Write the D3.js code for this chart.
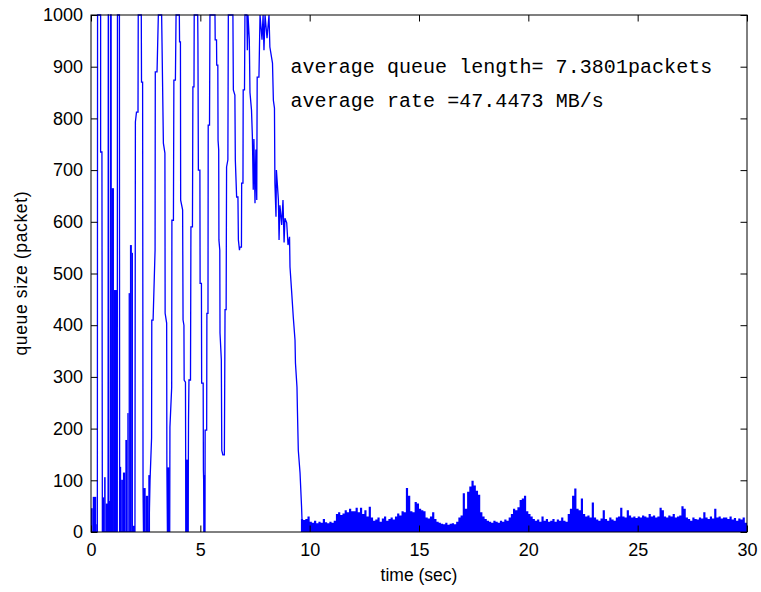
<!DOCTYPE html>
<html>
<head>
<meta charset="utf-8">
<script src="https://cdn.jsdelivr.net/npm/d3@7"></script>
<style>
  body { margin: 0; background: #fff; }
  text { font-family: "Liberation Sans", Arial, sans-serif; }
</style>
</head>
<body>
<div id="chart"></div>
<script>
// axis ticks
var xTicks = [0, 5, 10, 15, 20, 25, 30];
var yTicks = [0, 100, 200, 300, 400, 500, 600, 700, 800, 900, 1000];

// queue trace during the oscillating start, [time (sec), queue (packet)]
var startSpikes = [[0, 0], [0.29, 0], [0.30, 1000], [0.44, 1000], [0.44, 735], [0.50, 735], [0.52, 0],
  [0.78, 0], [0.79, 1000], [0.80, 1000], [0.81, 0], [0.89, 0], [0.90, 1000], [0.92, 1000], [0.93, 0],
  [1.20, 0], [1.21, 1000], [1.30, 1000], [1.31, 0], [2.01, 0]];
var toothA = [[2.03, 793], [2.08, 812], [2.15, 812], [2.16, 1000], [2.30, 1000], [2.31, 870],
  [2.36, 870], [2.38, 81], [2.40, 0], [2.65, 0]];
var toothB = [[2.70, 100], [2.77, 182], [2.78, 410], [2.84, 410], [2.93, 545], [2.94, 890], [3.02, 890],
  [3.08, 1000], [3.23, 1000], [3.24, 970], [3.31, 752], [3.38, 733], [3.39, 423], [3.46, 404],
  [3.47, 133], [3.50, 0], [3.60, 0]];
var toothC = [[3.61, 203], [3.69, 280], [3.70, 603], [3.77, 603], [3.79, 874], [3.86, 874], [3.89, 1000],
  [4.04, 1000], [4.05, 948], [4.09, 948], [4.10, 642], [4.19, 623], [4.21, 410], [4.25, 400],
  [4.26, 294], [4.32, 290], [4.34, 0], [4.44, 0]];
var toothD = [[4.46, 217], [4.48, 294], [4.55, 294], [4.57, 590], [4.64, 590], [4.66, 861], [4.71, 861],
  [4.72, 1000], [4.88, 1000], [4.89, 948], [4.91, 700], [4.98, 700], [4.99, 481], [5.05, 481],
  [5.06, 288], [5.13, 288], [5.14, 120], [5.21, 0]];
var toothE = [[5.22, 197], [5.29, 197], [5.30, 423], [5.35, 423], [5.36, 787], [5.42, 787], [5.44, 1000],
  [5.67, 1000], [5.68, 952], [5.74, 952], [5.75, 903], [5.80, 903], [5.81, 758], [5.84, 739],
  [5.85, 565], [5.89, 545], [5.90, 385], [5.96, 333], [5.98, 158], [6.03, 149]];
var toothF = [[6.10, 149], [6.13, 430], [6.18, 430], [6.20, 706], [6.26, 720], [6.28, 1000], [6.49, 1000],
  [6.51, 855], [6.58, 845], [6.60, 720], [6.66, 648], [6.72, 648], [6.74, 565], [6.79, 545], [6.81, 551]];
var toothG = [[6.88, 551], [6.89, 675], [6.95, 675], [6.96, 855], [7.02, 855], [7.04, 1000], [7.13, 1000],
  [7.15, 932], [7.18, 1000], [7.24, 952], [7.27, 850], [7.34, 816], [7.38, 765], [7.42, 662],
  [7.45, 760], [7.50, 636], [7.54, 740], [7.58, 642], [7.60, 880], [7.68, 880], [7.73, 1000],
  [7.82, 952], [7.87, 1000], [7.91, 932], [7.96, 1000], [8.05, 955], [8.14, 1000], [8.18, 938],
  [8.30, 907], [8.34, 835], [8.39, 820], [8.41, 675], [8.46, 610], [8.48, 700], [8.57, 642],
  [8.60, 565], [8.64, 632], [8.72, 594], [8.78, 642], [8.83, 560], [8.87, 607], [8.95, 598],
  [9.01, 555], [9.08, 571], [9.10, 513], [9.18, 462], [9.25, 416], [9.33, 371], [9.35, 327],
  [9.42, 280], [9.44, 236], [9.48, 158], [9.56, 114], [9.63, 48], [9.65, 23]];

// dense low oscillation blocks before 10 s, [from, to, top of band]
var burstFill = [[0.00, 0.08, 46], [0.08, 0.24, 68], [0.24, 0.29, 15],
  [0.52, 0.60, 67], [0.60, 0.67, 106], [0.67, 0.78, 55], [0.81, 0.89, 60],
  [0.93, 1.05, 665], [1.05, 1.20, 468], [1.31, 1.38, 126], [1.38, 1.46, 101], [1.46, 1.57, 115],
  [1.57, 1.66, 178], [1.66, 1.72, 230], [1.72, 1.78, 462], [1.78, 1.87, 555], [1.87, 1.92, 540],
  [1.92, 2.01, 12], [2.38, 2.50, 85], [2.50, 2.62, 70], [2.62, 2.70, 110],
  [3.47, 3.60, 125], [4.32, 4.46, 140], [5.13, 5.22, 110]];

// steady state after 9.6 s, band top sampled every 0.1 s
var noiseT0 = 9.6, noiseStep = 0.1;
var noiseQ = [25, 23, 25, 30,
  20, 18, 22, 17, 20, 18, 25, 19, 17, 20,
  18, 22, 35, 38, 33, 36, 42, 38, 45, 40,
  40, 47, 38, 47, 35, 42, 30, 49, 28, 22,
  24, 28, 20, 26, 30, 22, 25, 28, 24, 30,
  36, 32, 40, 38, 85, 70, 40, 38, 58, 55,
  45, 42, 40, 28, 26, 30, 38, 25, 20, 18,
  16, 15, 18, 14, 16, 17, 15, 20, 28, 32,
  75, 45, 78, 88, 99, 90, 80, 72, 38, 30,
  25, 22, 20, 18, 22, 20, 18, 22, 20, 24,
  22, 28, 35, 45, 42, 48, 62, 65, 70, 40,
  35, 30, 25, 22, 24, 20, 30, 22, 25, 20,
  22, 25, 20, 24, 22, 28, 22, 20, 35, 45,
  70, 84, 45, 42, 65, 35, 30, 32, 28, 57,
  28, 24, 22, 26, 42, 25, 22, 28, 24, 22,
  28, 30, 47, 30, 28, 42, 32, 28, 30, 27,
  30, 28, 32, 30, 28, 35, 30, 32, 28, 30,
  47, 42, 30, 28, 32, 30, 35, 28, 30, 32,
  50, 45, 28, 25, 22, 28, 25, 24, 28, 26,
  38, 28, 25, 30, 26, 45, 28, 30, 26, 28,
  28, 25, 30, 24, 27, 22, 26, 24, 28, 18];

var notes = ['average queue length= 7.3801packets', 'average rate =47.4473 MB/s'];

var W = 761, H = 592,
    plotL = 91, plotT = 15, plotR = 747, plotB = 532,
    blue = '#0000ff';

var x = d3.scaleLinear().domain([0, 30]).range([plotL, plotR]);
var y = d3.scaleLinear().domain([0, 1000]).range([plotB, plotT]);

var svg = d3.select('#chart').append('svg')
    .attr('width', W)
    .attr('height', H)
    .style('background', '#fff');

svg.append('clipPath').attr('id', 'plot')
  .append('rect')
    .attr('x', plotL).attr('y', plotT - 1)
    .attr('width', plotR - plotL).attr('height', plotB - plotT + 1);

var plot = svg.append('g').attr('clip-path', 'url(#plot)');

plot.append('g').selectAll('rect')
    .data(burstFill)
    .enter().append('rect')
    .attr('x', function(d) { return x(d[0]); })
    .attr('width', function(d) { return x(d[1]) - x(d[0]); })
    .attr('y', function(d) { return y(d[2]); })
    .attr('height', function(d) { return y(0) - y(d[2]); })
    .attr('fill', blue);

var noisePts = noiseQ.map(function(q, i) { return [noiseT0 + i * noiseStep, q]; });
noisePts.push([30, noiseQ[noiseQ.length - 1]]);

plot.append('path')
    .datum(noisePts)
    .attr('fill', blue)
    .attr('d', d3.area()
      .curve(d3.curveStepAfter)
      .x(function(d) { return x(d[0]); })
      .y0(y(0))
      .y1(function(d) { return y(d[1]); }));

var trace = [].concat(startSpikes, toothA, toothB, toothC, toothD, toothE, toothF, toothG);

plot.append('path')
    .datum(trace)
    .attr('fill', 'none')
    .attr('stroke', blue)
    .attr('stroke-width', 1.3)
    .attr('d', d3.line()
      .x(function(d) { return x(d[0]); })
      .y(function(d) { return y(d[1]); }));

// axes, MATLAB style: inward ticks on all four sides
function styleAxis(g) {
  g.select('.domain').remove();
  g.selectAll('line').attr('stroke', '#000');
  g.selectAll('text')
    .attr('fill', '#000')
    .style('font-family', '"Liberation Sans", Arial, sans-serif')
    .style('font-size', '18px');
}

svg.append('g')
    .attr('transform', 'translate(0,' + plotB + ')')
    .call(d3.axisBottom(x).tickValues(xTicks).tickSizeInner(-6.5).tickSizeOuter(0).tickPadding(11))
    .call(styleAxis);

svg.append('g')
    .attr('transform', 'translate(0,' + plotT + ')')
    .call(d3.axisTop(x).tickValues(xTicks).tickSizeInner(-6.5).tickSizeOuter(0).tickFormat(''))
    .call(styleAxis);

svg.append('g')
    .attr('transform', 'translate(' + plotL + ',0)')
    .call(d3.axisLeft(y).tickValues(yTicks).tickFormat(d3.format('d'))
      .tickSizeInner(-6.5).tickSizeOuter(0).tickPadding(8))
    .call(styleAxis);

svg.append('g')
    .attr('transform', 'translate(' + plotR + ',0)')
    .call(d3.axisRight(y).tickValues(yTicks).tickSizeInner(-6.5).tickSizeOuter(0).tickFormat(''))
    .call(styleAxis);

svg.append('rect')
    .attr('x', plotL).attr('y', plotT)
    .attr('width', plotR - plotL).attr('height', plotB - plotT)
    .attr('fill', 'none')
    .attr('stroke', '#000')
    .attr('stroke-width', 1);

svg.append('text')
    .attr('x', (plotL + plotR) / 2)
    .attr('y', 581)
    .attr('text-anchor', 'middle')
    .style('font-size', '17.5px')
    .text('time (sec)');

svg.append('text')
    .attr('transform', 'translate(27,' + ((plotT + plotB) / 2) + ') rotate(-90)')
    .attr('text-anchor', 'middle')
    .attr('textLength', 164)
    .attr('lengthAdjust', 'spacing')
    .style('font-size', '17.5px')
    .text('queue size (packet)');

svg.selectAll('.note')
    .data(notes)
    .enter().append('text')
    .attr('class', 'note')
    .attr('x', 290.5)
    .attr('y', function(d, i) { return 73 + i * 34; })
    .attr('textLength', function(d) { return d.length * 12.05; })
    .attr('lengthAdjust', 'spacing')
    .style('font-family', '"Liberation Mono", monospace')
    .style('font-size', '20px')
    .text(function(d) { return d; });
</script>
</body>
</html>
